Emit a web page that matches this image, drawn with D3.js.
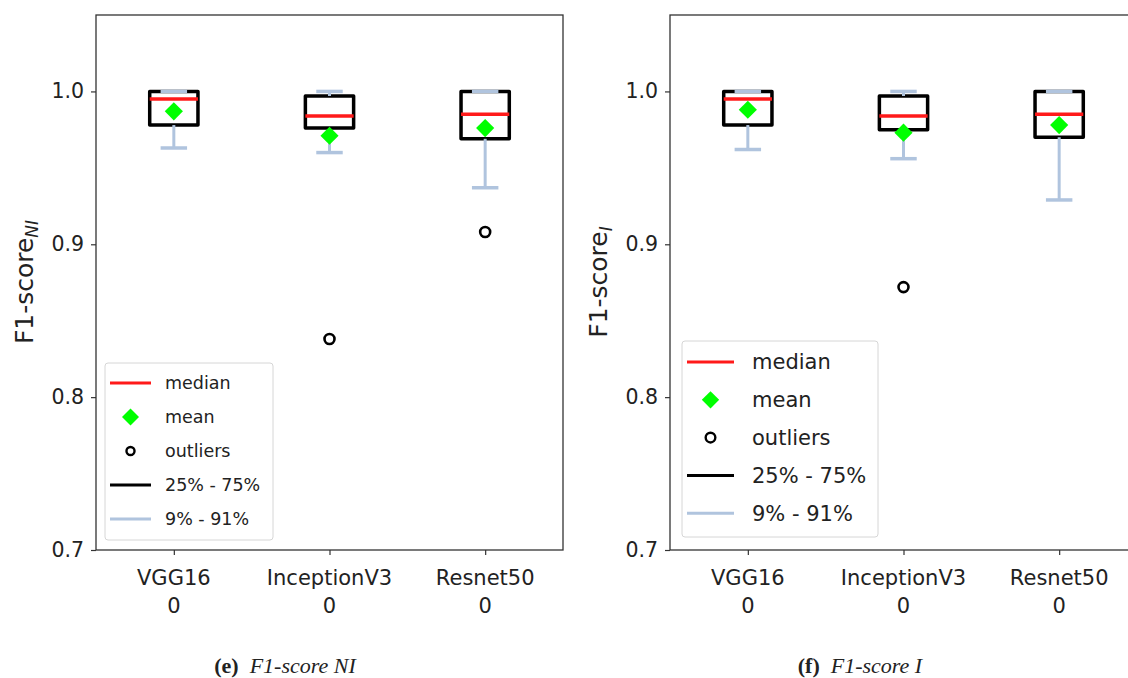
<!DOCTYPE html>
<html>
<head>
<meta charset="utf-8">
<script src="https://cdn.jsdelivr.net/npm/d3@7"></script>
<style>
  body { margin: 0; background: #fff; }
  text { font-family: "DejaVu Sans", sans-serif; fill: #222; }
</style>
</head>
<body>
<div id="chart-area"></div>
<script>
// categories and tick labels
var categories = ["VGG16", "InceptionV3", "Resnet50"];
var subLabels = ["0", "0", "0"];
var yTicks = [0.7, 0.8, 0.9, 1.0];

// (e) F1-score NI
var q1NI = [0.978, 0.976, 0.969];
var q3NI = [1.0, 0.997, 1.0];
var medianNI = [0.995, 0.984, 0.985];
var meanNI = [0.987, 0.971, 0.976];
var lowNI = [0.963, 0.960, 0.937];
var highNI = [1.0, 1.0, 1.0];
var outliersNI = [[], [0.838], [0.908]];

// (f) F1-score I
var q1I = [0.978, 0.975, 0.970];
var q3I = [1.0, 0.997, 1.0];
var medianI = [0.995, 0.984, 0.985];
var meanI = [0.988, 0.973, 0.978];
var lowI = [0.962, 0.956, 0.929];
var highI = [1.0, 1.0, 1.0];
var outliersI = [[], [0.872], []];

var legendLabels = ["median", "mean", "outliers", "25% - 75%", "9% - 91%"];

var svg = d3.select("#chart-area").append("svg")
    .attr("width", 1128).attr("height", 678);

function rows(q1, q3, med, mean, low, high, outl) {
    return categories.map((c, i) => ({
        cat: c, idx: i + 1, q1: q1[i], q3: q3[i], median: med[i],
        mean: mean[i], low: low[i], high: high[i], outliers: outl[i]
    }));
}

function panel(opts) {
    var data = opts.data;
    var x = d3.scaleLinear().domain([0.5, 3.5]).range([opts.left, opts.left + 467]);
    var y = d3.scaleLinear().domain([0.7, 1.05]).range([550, 15]);
    var g = svg.append("g");
    var bw = 0.155, cw = 0.085;

    // axes frame
    g.append("rect")
        .attr("x", x(0.5)).attr("y", y(1.05))
        .attr("width", x(3.5) - x(0.5)).attr("height", y(0.7) - y(1.05))
        .attr("fill", "none").attr("stroke", "#333").attr("stroke-width", 1.3);

    // y axis
    var yAxis = d3.axisLeft(y).tickValues(yTicks).tickFormat(d3.format(".1f"))
        .tickSize(5).tickPadding(7);
    var ya = g.append("g").attr("transform", "translate(" + x(0.5) + ",0)").call(yAxis);
    ya.select(".domain").remove();
    ya.selectAll("line").attr("stroke", "#333").attr("stroke-width", 1.2);
    ya.selectAll("text").attr("font-size", "20.5px").attr("fill", "#222")
        .attr("font-family", "DejaVu Sans");

    // x axis
    var xAxis = d3.axisBottom(x).tickValues([1, 2, 3]).tickFormat("").tickSize(5);
    var xa = g.append("g").attr("transform", "translate(0," + y(0.7) + ")").call(xAxis);
    xa.select(".domain").remove();
    xa.selectAll("line").attr("stroke", "#333").attr("stroke-width", 1.2);
    var lab = g.selectAll(".xlab").data(data).enter().append("text")
        .attr("class", "xlab")
        .attr("text-anchor", "middle")
        .attr("font-size", "21px");
    lab.append("tspan").attr("x", d => x(d.idx)).attr("y", 585).text(d => d.cat);
    lab.append("tspan").attr("x", d => x(d.idx)).attr("y", 613).text((d, i) => subLabels[i]);

    // y label
    var yl = g.append("text")
        .attr("transform", "translate(" + (x(0.5) - 63) + ",282) rotate(-90)")
        .attr("text-anchor", "middle").attr("font-size", "25px");
    yl.append("tspan").text("F1-score");
    yl.append("tspan").attr("dy", 5).attr("font-size", "17px")
        .attr("font-style", "italic").text(opts.sub);

    // boxes
    g.selectAll(".box").data(data).enter().append("rect")
        .attr("x", d => x(d.idx - bw)).attr("y", d => y(d.q3))
        .attr("width", d => x(d.idx + bw) - x(d.idx - bw))
        .attr("height", d => y(d.q1) - y(d.q3))
        .attr("fill", "none").attr("stroke", "#000").attr("stroke-width", 3.5)
        .attr("stroke-linejoin", "round");

    g.selectAll(".med").data(data).enter().append("line")
        .attr("x1", d => x(d.idx - bw)).attr("x2", d => x(d.idx + bw))
        .attr("y1", d => y(d.median)).attr("y2", d => y(d.median))
        .attr("stroke", "#ff1a1a").attr("stroke-width", 3.5);

    // whiskers
    var wc = "#b0c4de";
    g.selectAll(".wl").data(data).enter().append("line")
        .attr("x1", d => x(d.idx)).attr("x2", d => x(d.idx))
        .attr("y1", d => y(d.q1)).attr("y2", d => y(d.low))
        .attr("stroke", wc).attr("stroke-width", 3);
    g.selectAll(".wh").data(data).enter().append("line")
        .attr("x1", d => x(d.idx)).attr("x2", d => x(d.idx))
        .attr("y1", d => y(d.q3)).attr("y2", d => y(d.high))
        .attr("stroke", wc).attr("stroke-width", 3);
    ["low", "high"].forEach(k => {
        g.selectAll(".cap-" + k).data(data).enter().append("line")
            .attr("x1", d => x(d.idx - cw)).attr("x2", d => x(d.idx + cw))
            .attr("y1", d => y(d[k])).attr("y2", d => y(d[k]))
            .attr("stroke", wc).attr("stroke-width", 3.5);
    });

    // means
    var diamond = d3.symbol().type(d3.symbolSquare).size(165);
    g.selectAll(".mean").data(data).enter().append("path")
        .attr("d", diamond)
        .attr("transform", d => "translate(" + x(d.idx) + "," + y(d.mean) + ") rotate(45)")
        .attr("fill", "#00ff00");

    // outliers
    var outs = [];
    data.forEach(d => d.outliers.forEach(v => outs.push({idx: d.idx, v: v})));
    g.selectAll(".out").data(outs).enter().append("circle")
        .attr("cx", d => x(d.idx)).attr("cy", d => y(d.v)).attr("r", 5)
        .attr("fill", "none").attr("stroke", "#000").attr("stroke-width", 2.6);

    // legend
    var L = opts.legend;
    var lg = g.append("g");
    lg.append("rect")
        .attr("x", L.x).attr("y", L.y).attr("width", L.w).attr("height", L.h)
        .attr("rx", 3).attr("fill", "#fff").attr("fill-opacity", 0.8)
        .attr("stroke", "#d6d6d6").attr("stroke-width", 1);
    var legDiamond = d3.symbol().type(d3.symbolSquare).size(L.dsize);
    legendLabels.forEach((t, i) => {
        var cy = L.y + L.first + i * L.step;
        var hx1 = L.x + L.hpad, hx2 = hx1 + L.hlen, hc = (hx1 + hx2) / 2;
        if (i === 0 || i === 3 || i === 4) {
            lg.append("line").attr("x1", hx1).attr("x2", hx2).attr("y1", cy).attr("y2", cy)
                .attr("stroke", i === 0 ? "#ff1a1a" : (i === 3 ? "#000" : wc))
                .attr("stroke-width", 3);
        } else if (i === 1) {
            lg.append("path").attr("d", legDiamond)
                .attr("transform", "translate(" + hc + "," + cy + ") rotate(45)")
                .attr("fill", "#00ff00");
        } else {
            lg.append("circle").attr("cx", hc).attr("cy", cy).attr("r", L.fs * 0.23)
                .attr("fill", "none").attr("stroke", "#000").attr("stroke-width", 2.4);
        }
        lg.append("text").attr("x", L.tx).attr("y", cy).attr("dy", "0.35em")
            .attr("font-size", L.fs + "px").text(t);
    });

    // caption
    var cap = svg.append("text")
        .attr("x", opts.capX).attr("y", 673).attr("text-anchor", "middle")
        .style("font-family", "'Liberation Serif', 'DejaVu Serif', serif")
        .attr("font-size", "22px").attr("fill", "#000");
    cap.append("tspan").attr("font-weight", "bold").text(opts.capTag);
    cap.append("tspan").attr("font-style", "italic").text("\u2002" + opts.capText);
}

panel({
    data: rows(q1NI, q3NI, medianNI, meanNI, lowNI, highNI, outliersNI),
    left: 96, sub: "NI",
    legend: {x: 105, y: 363, w: 168, h: 177, first: 20, step: 34, hpad: 5, hlen: 41, tx: 165, fs: 17.5, dsize: 145},
    capX: 285, capTag: "(e)", capText: "F1-score NI"
});
panel({
    data: rows(q1I, q3I, medianI, meanI, lowI, highI, outliersI),
    left: 670, sub: "I",
    legend: {x: 682, y: 341, w: 196, h: 196, first: 21, step: 37.8, hpad: 5, hlen: 47, tx: 752, fs: 21, dsize: 150},
    capX: 860, capTag: "(f)", capText: "F1-score I"
});
</script>
</body>
</html>
